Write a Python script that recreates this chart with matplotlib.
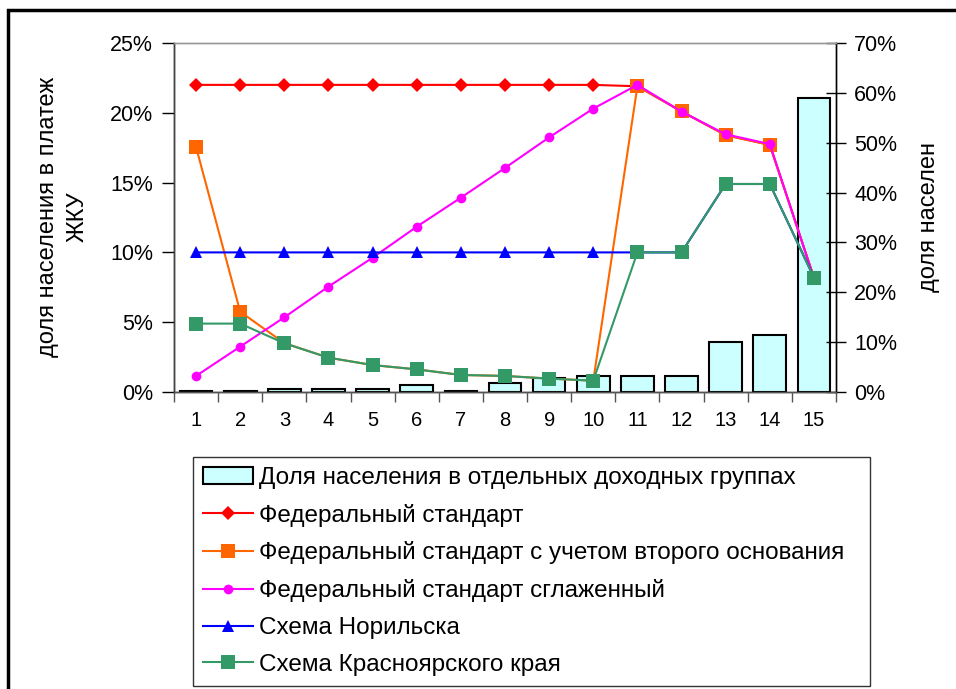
import matplotlib
matplotlib.use("Agg")
import matplotlib.pyplot as plt
from matplotlib.patches import Rectangle, Patch
from matplotlib.lines import Line2D
from matplotlib.ticker import FuncFormatter, FixedLocator

plt.rcParams['font.family'] = ['Liberation Sans', 'DejaVu Sans']

categories = list(range(1, 16))
pop_share = [0.3, 0.3, 0.66, 0.66, 0.66, 1.5, 0.3, 1.9, 2.9, 3.3, 3.3, 3.3, 10.1, 11.4, 58.9]
fed_std = [22, 22, 22, 22, 22, 22, 22, 22, 22, 22, 21.9, 20.1, 18.4, 17.7, 8.2]
fed_std_second = [17.55, 5.75, 3.5, 2.46, 1.93, 1.62, 1.22, 1.15, 0.96, 0.81, 21.9, 20.1, 18.4, 17.7, 8.2]
fed_std_smooth = [1.15, 3.25, 5.35, 7.55, 9.62, 11.84, 13.92, 16.05, 18.24, 20.3, 22.0, 20.08, 18.46, 17.76, 8.15]
norilsk = [10, 10, 10, 10, 10, 10, 10, 10, 10, 10, 10, 10, 14.9, 14.9, 8.2]
krasnoyarsk = [4.9, 4.9, 3.49, 2.46, 1.93, 1.62, 1.22, 1.15, 0.96, 0.81, 10, 10, 14.9, 14.9, 8.19]

labels = ["Доля населения в отдельных доходных группах",
          "Федеральный стандарт",
          "Федеральный стандарт с учетом второго основания",
          "Федеральный стандарт сглаженный",
          "Схема Норильска",
          "Схема Красноярского края"]

W, H = 956, 689
fig = plt.figure(figsize=(W / 100, H / 100), dpi=100)
ax = fig.add_axes([174 / W, 1 - 392 / H, (836 - 174) / W, (392 - 43) / H])
ax2 = ax.twinx()
ax.set_zorder(2)
ax2.set_zorder(1)
ax.patch.set_visible(False)

YFS = 15.5   # y tick labels
XFS = 14.5   # x tick labels
LFS = 17.5   # legend
AFS = 17     # axis titles

# bars on right axis
ax2.bar(categories, pop_share, width=0.74, color='#CCFFFF', edgecolor='black', linewidth=1.5)
ax2.set_ylim(0, 70)
ax2.yaxis.set_major_locator(FixedLocator(range(0, 71, 10)))
ax2.yaxis.set_major_formatter(FuncFormatter(lambda v, p: f"{int(round(v))}%"))
ax2.tick_params(axis='y', direction='inout', length=14, labelsize=YFS, pad=6, width=1, colors='black')

# lines on left axis
series = [
    (fed_std, '#FF0000', 'D', 7.5, 1.5),
    (fed_std_second, '#FF6600', 's', 10, 1.5),
    (fed_std_smooth, '#FF00FF', 'o', 7, 1.5),
    (norilsk, '#0000FF', '^', 8.5, 1.5),
    (krasnoyarsk, '#339966', 's', 9.5, 1.5),
]
handles = [Patch(facecolor='#CCFFFF', edgecolor='black', linewidth=1.5)]
for vals, col, mk, ms, lw in series:
    ax.plot(categories, vals, color=col, marker=mk, markersize=ms, linewidth=lw,
            markeredgewidth=0)
    handles.append(Line2D([], [], color=col, marker=mk, markersize=ms, linewidth=lw,
                          markeredgewidth=0))

ax.set_xlim(0.5, 15.5)
ax.set_ylim(0, 25)
ax.yaxis.set_major_locator(FixedLocator(range(0, 26, 5)))
ax.yaxis.set_major_formatter(FuncFormatter(lambda v, p: f"{int(round(v))}%"))
ax.set_xticks(categories)
ax.set_xticklabels([str(c) for c in categories])
ax.set_xticks([c + 0.5 for c in range(0, 16)], minor=True)
ax.tick_params(axis='x', which='major', length=0, labelsize=XFS, pad=14)
ax.tick_params(axis='x', which='minor', length=7, direction='out', width=1, colors='#555555')
ax.tick_params(axis='y', direction='out', length=9, labelsize=YFS, pad=6, width=1, colors='black')

fig.text(63 / W, 1 - 217 / H, "доля населения в платеж\nЖКУ", rotation=90,
         ha='center', va='center', fontsize=AFS, linespacing=1.45, multialignment='center')
fig.text(929 / W, 1 - 217 / H, "доля населен", rotation=90,
         ha='center', va='center', fontsize=AFS)

for a in (ax, ax2):
    for s in ('top', 'left', 'right', 'bottom'):
        a.spines[s].set_linewidth(1)
ax.spines['top'].set_color('#999999')
ax.spines['left'].set_color('#444444')
ax.spines['bottom'].set_color('#555555')
ax2.spines['top'].set_color('#999999')
ax2.spines['right'].set_color('#222222')

leg = fig.legend(handles, labels, loc='upper left',
                 bbox_to_anchor=(193 / W, 1 - 457 / H - 0.01, (870 - 193) / W, 0.01),
                 mode='expand', bbox_transform=fig.transFigure,
                 fontsize=LFS, frameon=True, fancybox=False, edgecolor='black',
                 handlelength=2.05, handletextpad=0.28, labelspacing=0.61,
                 borderpad=0.4, borderaxespad=0)
leg.get_frame().set_linewidth(1)

# outer frame
fig.add_artist(Rectangle((8 / W, -0.1), 1.2, 1 - 10 / H + 0.1, transform=fig.transFigure,
                         fill=False, edgecolor='black', linewidth=2.5, clip_on=False))

fig.savefig("out.png", dpi=100)
